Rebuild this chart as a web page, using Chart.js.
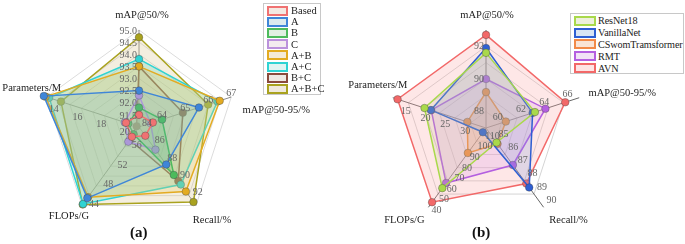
<!DOCTYPE html>
<html><head><meta charset="utf-8">
<script src="https://cdn.jsdelivr.net/npm/chart.js@4/dist/chart.umd.min.js"></script>
<style>
body{margin:0;background:#fff;width:685px;height:244px;overflow:hidden;position:relative;font-family:"Liberation Serif","Times New Roman",serif;}
canvas{position:absolute;left:0;top:0;}
.legend{position:absolute;border:1px solid #c8c8c8;background:#fff;color:#222;box-sizing:border-box;}
.legend .it{display:flex;align-items:center;white-space:nowrap;}
.legend .sw{box-sizing:border-box;border:2px solid;margin-right:3px;flex-shrink:0;}
.cap{position:absolute;font-weight:bold;font-size:15px;color:#111;}
</style></head><body>
<canvas id="ca" width="685" height="244"></canvas>
<canvas id="cb" width="685" height="244"></canvas>
<div id="lega" class="legend" style="left:263px;top:3px;width:58px;height:92px;font-size:10.5px;padding:1px 0 0 3px;"></div>
<div id="legb" class="legend" style="left:570px;top:13px;width:114px;height:61px;font-size:10.2px;padding:1px 0 0 3px;letter-spacing:-0.1px;"></div>
<div class="cap" style="left:130px;top:224px;">(a)</div>
<div class="cap" style="left:472px;top:224px;">(b)</div>
<script>
// ---------- Chart (a) ----------
const axesA = ["mAP@50/%", "mAP@50-95/%", "Recall/%", "FLOPs/G", "Parameters/M"];
const centerValA = [91.0, 63.0, 84.0, 60.0, 21.2];   // value at centre of each axis
const outerValA  = [95.0, 67.0, 93.0, 44.0, 13.4];   // value at outer end of each axis
const ticksA0 = [91.5, 92.0, 92.5, 93.0, 93.5, 94.0, 94.5, 95.0];
const ticksA1 = [64, 65, 66, 67];
const ticksA2 = [84, 86, 88, 90, 92];
const ticksA3 = [44, 48, 52, 56];
const ticksA4 = [14, 16, 18, 20];
const namesA = ["Based", "A", "B", "C", "A+B", "A+C", "B+C", "A+B+C"];
const based = [91.5, 63.6, 85.0, 58.0, 20.1];
const setA  = [92.5, 65.6, 88.3, 45.5, 13.15];
const setB  = [91.8, 64.0, 89.5, 58.5, 20.3];
const setC  = [92.3, 63.5, 86.6, 57.0, 20.0];
const setAB = [93.5, 66.5, 91.4, 45.7, 13.3];
const setAC = [93.8, 66.4, 90.6, 44.3, 13.6];
const setBC = [93.5, 64.9, 90.2, 57.4, 21.0];
const setABC= [94.7, 66.0, 92.6, 44.2, 14.6];

// ---------- Chart (b) ----------
const axesB = ["mAP@50/%", "mAP@50-95/%", "Recall/%", "FLOPs/G", "Parameters/M"];
const centerValB = [87.0, 59.0, 84.0, 115.0, 34.5];
const outerValB  = [93.0, 67.0, 90.0, 40.0, 11.0];
const ticksB0 = [88, 90, 92];
const ticksB1 = [60, 62, 64, 66];
const ticksB2 = [85, 86, 87, 88, 89, 90];
const ticksB3 = [40, 50, 60, 70, 80, 90, 100, 110];
const ticksB4 = [15, 20, 25, 30];
const namesB = ["ResNet18", "VanillaNet", "CSwomTramsformer", "RMT", "AVN"];
const resnet18   = [91.6, 63.2, 85.1, 58.1, 19.0];
const vanillanet = [91.9, 63.0, 88.5, 111.0, 20.6];
const cswom      = [89.2, 60.7, 85.2, 91.4, 29.8];
const rmt        = [90.0, 64.1, 86.8, 63.0, 20.7];
const avn        = [92.7, 65.8, 88.2, 44.8, 12.2];

const colorsA = ["#f07272", "#3f86d8", "#4dbb5c", "#bb92dc", "#e3ab22", "#2fd3d3", "#8a4b3d", "#a9a21f"];
const fillsA  = ["rgba(240,200,180,0.16)", "rgba(100,180,200,0.18)", "rgba(110,200,110,0.28)", "rgba(210,190,230,0.14)",
                 "rgba(230,200,100,0.28)", "rgba(80,210,180,0.26)", "rgba(170,130,110,0.12)", "rgba(215,195,140,0.28)"];
const colorsB = ["#a9d94b", "#2f5fd2", "#f28a48", "#b45fe0", "#f26868"];
const fillsB  = ["rgba(200,200,150,0.22)", "rgba(120,150,220,0.22)", "rgba(245,160,110,0.28)", "rgba(215,150,235,0.22)", "rgba(250,170,170,0.28)"];

function norm(vals, lo, hi) { return vals.map((v, i) => (v - lo[i]) / (hi[i] - lo[i])); }

function overlayPlugin(axes, lo, hi, tickSets, tickFmt, tickOff, labelOff) {
  return {
    id: 'overlay',
    afterDatasetsDraw(chart) {
      const s = chart.scales.r, ctx = chart.ctx;
      ctx.save();
      ctx.font = '10px "Liberation Serif", serif';
      ctx.fillStyle = '#666';
      tickSets.forEach((ts, i) => {
        const o = tickOff[i];
        ts.forEach(t => {
          const p = s.getPointPositionForValue(i, (t - lo[i]) / (hi[i] - lo[i]));
          ctx.textAlign = o[2]; ctx.textBaseline = 'middle';
          ctx.fillText(tickFmt[i](t), p.x + o[0], p.y + o[1]);
        });
      });
      ctx.font = '10.5px "Liberation Serif", serif';
      ctx.fillStyle = '#222';
      ctx.textAlign = 'center'; ctx.textBaseline = 'middle';
      axes.forEach((a, i) => {
        const p = s.getPointPosition(i, s.drawingArea);
        ctx.fillText(a, p.x + labelOff[i][0], p.y + labelOff[i][1]);
      });
      ctx.restore();
    }
  };
}

function makeRadar(id, axes, datasets, pad, grid, angle, step, hideOuter, plugin) {
  return new Chart(document.getElementById(id), {
    type: 'radar',
    data: { labels: axes, datasets: datasets },
    options: {
      responsive: false, animation: false, devicePixelRatio: 1,
      layout: { padding: pad },
      plugins: { legend: { display: false }, tooltip: { enabled: false } },
      scales: { r: {
        min: 0, max: 1,
        ticks: { display: false, stepSize: step },
        pointLabels: { display: false },
        grid: { color: c => (hideOuter && c.tick && c.tick.value >= 0.999) ? 'rgba(0,0,0,0)' : grid, lineWidth: 1 },
        angleLines: { color: angle, lineWidth: 1 }
      } }
    },
    plugins: [plugin]
  });
}

function ds(name, vals, c, f) {
  return { label: name, data: vals, borderColor: c, backgroundColor: f, fill: true,
    borderWidth: 1.5, pointRadius: 3.8, pointBackgroundColor: c, pointBorderColor: 'rgba(60,60,60,0.45)', pointBorderWidth: 0.8 };
}

const seriesA = [based, setA, setB, setC, setAB, setAC, setBC, setABC];
const dsA = seriesA.map((v, k) => ds(namesA[k], norm(v, centerValA, outerValA), colorsA[k], fillsA[k]));
const fmt1 = t => t.toFixed(1), fmt0 = t => String(t);
makeRadar('ca', axesA, dsA, { left: 42, top: 30, right: 449, bottom: 20 }, '#dcdcdc', '#8a8a8a', 0.125, false,
  overlayPlugin(axesA, centerValA, outerValA, [ticksA0, ticksA1, ticksA2, ticksA3, ticksA4],
    [fmt1, fmt0, fmt0, fmt0, fmt0],
    [[-2, 1, 'right'], [0, -4, 'center'], [3, -4, 'left'], [7, -1, 'left'], [0, 10, 'center']],
    [[3, -15], [45, 13], [16, 14.5], [-13, 10.5], [-15, -9]]));

const seriesB = [resnet18, vanillanet, cswom, rmt, avn];
const dsB = seriesB.map((v, k) => ds(namesB[k], norm(v, centerValB, outerValB), colorsB[k], fillsB[k]));
makeRadar('cb', axesB, dsB, { left: 388, top: 30, right: 101, bottom: 18 }, '#d4d4d4', '#666', 1/6, true,
  overlayPlugin(axesB, centerValB, outerValB, [ticksB0, ticksB1, ticksB2, ticksB3, ticksB4],
    [fmt0, fmt0, fmt0, fmt0, fmt0],
    [[-2, 0, 'right'], [0, -7, 'center'], [3, -7, 'left'], [3, 3, 'left'], [-3, 9, 'center']],
    [[1, -15], [43, -4], [25, 13], [-24, 13], [-15, -12]]));

function legend(id, names, colors, fills, swW, swH, rowH, gap) {
  const el = document.getElementById(id);
  names.forEach((n, k) => {
    const it = document.createElement('div'); it.className = 'it'; it.style.height = rowH + 'px';
    const sw = document.createElement('span'); sw.className = 'sw';
    sw.style.width = swW + 'px'; sw.style.height = swH + 'px'; sw.style.marginRight = gap + 'px';
    sw.style.borderColor = colors[k]; sw.style.background = fills[k];
    const tx = document.createElement('span'); tx.textContent = n;
    it.appendChild(sw); it.appendChild(tx); el.appendChild(it);
  });
}
legend('lega', namesA, colorsA, ["#f4e9e2","#dcebee","#e0f0e2","#f3ecef","#f4ead8","#dff4f2","#efe8e2","#efe9dc"], 21, 10, 11.2, 3);
legend('legb', namesB, colorsB, ["#eef0dc","#d8e4f4","#f9e4d6","#f1e2f6","#fde4e4"], 22, 10, 11.8, 2);
</script>
</body></html>
